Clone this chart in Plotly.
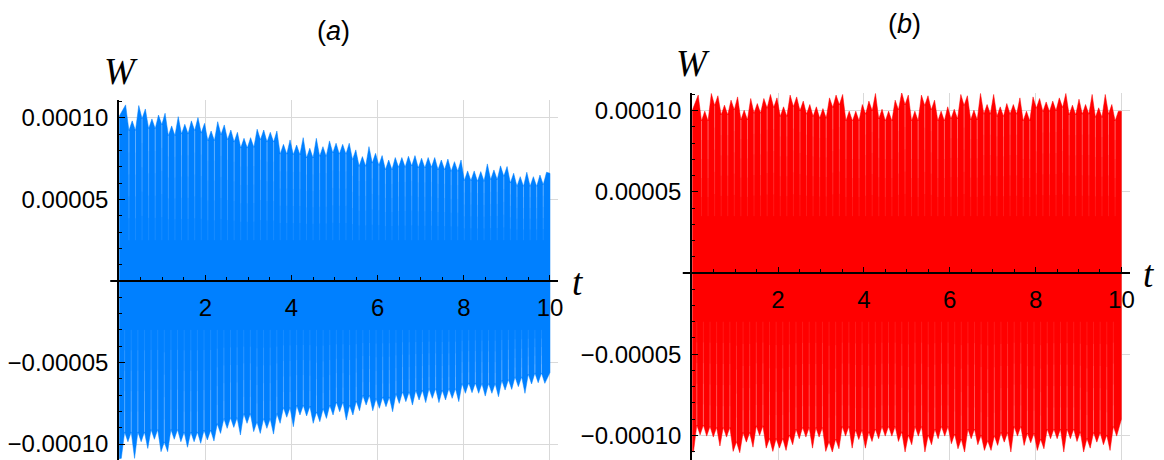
import numpy as np
import plotly.graph_objects as go

# ---------------- data (values in units of 1e-5) ----------------
SCALE = 1e-5

# panel (a): heights of the visible oscillation teeth (upper and lower edges)
a_upper = [10.80, 9.82, 10.76, 10.55, 9.94, 10.18, 10.29, 9.51, 10.08, 9.61,
           9.82, 10.02, 9.67, 9.20, 9.77, 9.57, 9.26, 9.12, 8.75, 8.79,
           9.31, 9.26, 9.12, 9.20, 8.38, 8.65, 8.34, 8.79, 8.14, 8.75,
           8.24, 8.59, 8.45, 8.38, 8.45, 8.04, 7.63, 8.24, 7.83, 7.69,
           7.42, 7.57, 7.57, 7.65, 7.69, 7.53, 7.57, 7.57, 7.42, 7.48,
           7.32, 7.42, 6.75, 6.75, 6.71, 7.18, 6.81, 7.06, 7.02, 6.61,
           6.40, 6.67, 6.40, 6.50, 6.67]
a_lower = [-10.88, -9.86, -10.88, -9.86, -10.27, -9.71, -10.47, -10.47, -9.71, -9.86,
           -10.20, -9.86, -9.96, -9.75, -9.82, -9.35, -9.04, -8.98, -9.45, -8.73,
           -9.24, -9.35, -9.04, -9.39, -8.73, -8.36, -8.94, -8.22, -8.28, -8.73,
           -8.63, -8.43, -8.22, -8.02, -8.53, -8.22, -7.96, -7.61, -7.96, -7.81,
           -7.71, -8.02, -7.51, -7.40, -7.61, -7.30, -7.46, -7.20, -7.46, -7.30,
           -7.20, -7.40, -6.89, -6.85, -6.89, -7.06, -6.89, -7.10, -6.69, -6.65,
           -6.48, -6.89, -6.32, -6.24, -6.28]
a_upper_ends = [10.1, 6.6]      # W at t=0 and t=10
a_lower_ends = [-10.9, -5.62]
a_upper_span = [0.15, 9.92]     # first / last tooth time
a_lower_span = [0.05, 9.88]
a_stripe_reach = [2.5, -3.0]    # how far the light gaps reach into the band

# panel (b)
b_upper = [10.95, 9.96, 11.05, 10.91, 10.33, 10.64, 10.84, 10.02, 10.74, 10.43,
           10.74, 10.99, 10.78, 10.23, 10.95, 10.84, 10.58, 10.37, 10.23, 10.12,
           10.78, 10.95, 10.99, 9.96, 9.96, 10.37, 10.58, 11.05, 10.08, 9.96,
           10.64, 11.11, 10.95, 9.96, 10.95, 10.91, 10.64, 9.96, 10.23, 10.08,
           10.99, 10.91, 10.02, 11.05, 10.37, 10.99, 10.23, 10.43, 10.37, 10.78,
           9.96, 10.84, 10.74, 10.53, 10.58, 10.78, 11.05, 10.33, 10.70, 10.37,
           10.99, 10.17, 10.99, 10.37, 9.96]
b_lower = [-11.02, -9.96, -10.04, -10.10, -10.65, -10.10, -10.98, -11.06, -10.41, -10.72,
           -10.00, -10.78, -10.98, -10.78, -10.92, -10.57, -10.20, -10.10, -10.78, -10.10,
           -10.98, -11.02, -10.82, -10.04, -10.78, -10.25, -10.78, -10.37, -10.20, -10.04,
           -10.04, -10.37, -11.02, -10.57, -10.04, -11.02, -10.57, -10.20, -10.04, -10.51,
           -10.82, -11.02, -10.20, -10.57, -10.92, -10.92, -10.61, -10.41, -11.02, -10.04,
           -10.61, -10.45, -10.92, -10.82, -10.20, -10.20, -11.02, -10.20, -10.37, -11.02,
           -10.78, -10.41, -10.57, -10.92, -10.04]
b_upper_ends = [10.0, 9.96]
b_lower_ends = [-11.0, -9.0]
b_upper_span = [0.14, 9.93]
b_lower_span = [0.03, 9.89]
b_stripe_reach = [3.5, -3.0]

T_END = 10
x_ticks = [2, 4, 6, 8, 10]
y_ticks = [-1e-4, -5e-5, 5e-5, 1e-4]
y_ticktext = ["\u22120.00010", "\u22120.00005", "0.00005", "0.00010"]

BLUE = "rgb(0,128,255)"
RED = "rgb(255,0,0)"
NOTCH = 0.6                      # depth of the gap between adjacent teeth (drawing style)
FADE = [0.2, 0.4, 0.6, 0.8, 1.0]  # stripe fading steps (drawing style)

W_PX, H_PX = 1164, 460
OFF = 8  # page body margin of the html page


def px(x):
    return (x - OFF) / W_PX


def py(y):
    return 1 - (y - OFF) / H_PX


def edge(span, vals, upper):
    t = np.linspace(span[0], span[1], len(vals))
    xs, ys, gaps = [], [], []
    for i, v in enumerate(vals):
        xs.append(t[i]); ys.append(v)
        if i < len(vals) - 1:
            m = (t[i] + t[i + 1]) / 2
            nv = min(v, vals[i + 1]) - NOTCH if upper else max(v, vals[i + 1]) + NOTCH
            xs.append(m); ys.append(nv)
            gaps.append((m, nv))
    return xs, ys, gaps


def stripes(gaps, reach, frac):
    sx, sy = [], []
    for m, nv in gaps:
        sx += [m, m, None]
        sy += [nv * SCALE, (nv + (reach - nv) * frac) * SCALE, None]
    return sx, sy


fig = go.Figure()
for (up, us, ue, lo, ls, le, reach, color, xa, ya) in [
    (a_upper, a_upper_span, a_upper_ends, a_lower, a_lower_span, a_lower_ends,
     a_stripe_reach, BLUE, "x", "y"),
    (b_upper, b_upper_span, b_upper_ends, b_lower, b_lower_span, b_lower_ends,
     b_stripe_reach, RED, "x2", "y2"),
]:
    ux, uy, ugaps = edge(us, up, True)
    lx, ly, lgaps = edge(ls, lo, False)
    xs = [0] + ux + [T_END, T_END] + lx[::-1] + [0, 0]
    ys = [ue[0]] + uy + [ue[1], le[1]] + ly[::-1] + [le[0], ue[0]]
    fig.add_trace(go.Scatter(x=xs, y=[v * SCALE for v in ys], mode="lines",
                             fill="toself", fillcolor=color,
                             line=dict(color=color, width=0.5), hoverinfo="skip",
                             xaxis=xa, yaxis=ya))
    for frac in FADE:
        sx1, sy1 = stripes(ugaps, reach[0], frac)
        sx2, sy2 = stripes(lgaps, reach[1], frac)
        fig.add_trace(go.Scatter(x=sx1 + sx2, y=sy1 + sy2, mode="lines", opacity=0.09,
                                 line=dict(color="white", width=1), hoverinfo="skip",
                                 connectgaps=False, xaxis=xa, yaxis=ya))

TICKFONT = dict(family="Liberation Sans, Arial, sans-serif", size=24, color="black")
GRID = "#d9d9d9"


def xaxis_cfg(dom, rng, pos):
    return dict(domain=dom, range=rng, anchor="free", position=pos,
                tickvals=x_ticks, showgrid=True, gridcolor=GRID, gridwidth=1,
                showline=True, linecolor="black", linewidth=2,
                ticks="inside", ticklen=5, tickwidth=1, tickcolor="black",
                minor=dict(dtick=0.5, tick0=0, ticks="inside", ticklen=3,
                           tickcolor="black", showgrid=False),
                tickfont=TICKFONT, zeroline=False, layer="above traces",
                ticklabelstandoff=5, fixedrange=True)


def yaxis_cfg(dom, rng, anchor):
    return dict(domain=dom, range=rng, anchor=anchor,
                tickvals=y_ticks, ticktext=y_ticktext,
                showgrid=True, gridcolor=GRID, gridwidth=1,
                showline=True, linecolor="black", linewidth=2,
                ticks="inside", ticklen=6, tickwidth=1, tickcolor="black",
                minor=dict(dtick=1e-5, tick0=0, ticks="inside", ticklen=3,
                           tickcolor="black", showgrid=False),
                tickfont=TICKFONT, zeroline=False, layer="above traces",
                ticklabelstandoff=4, fixedrange=True)


fig.update_layout(
    width=W_PX, height=H_PX,
    margin=dict(l=0, r=0, t=0, b=0),
    paper_bgcolor="white", plot_bgcolor="white",
    showlegend=False,
    xaxis=xaxis_cfg([px(117), px(559)], [0, 10.18], py(281)),
    yaxis=yaxis_cfg([py(460), py(100)], [-10.98e-5, 11.1e-5], "x"),
    xaxis2=xaxis_cfg([px(694.5), px(1135.7)], [0, 10.2], py(273)),
    yaxis2=yaxis_cfg([py(460), py(93)], [-11.51e-5, 11.08e-5], "x2"),
)

# short stubs of the t-axis left of the W-axis (Mathematica-style)
fig.add_shape(type="line", xref="paper", yref="y", x0=px(108), x1=px(117), y0=0, y1=0,
              line=dict(color="black", width=2))
fig.add_shape(type="line", xref="paper", yref="y2", x0=px(685), x1=px(694.5), y0=0, y1=0,
              line=dict(color="black", width=2))

SERIF = "Liberation Serif, Times New Roman, serif"
SANS = "Liberation Sans, Arial, sans-serif"
annos = [
    ("(<i>a</i>)", 333, 31, SANS, 27),
    ("(<i>b</i>)", 908, 24, SANS, 27),
    ("<i>W</i>", 119, 72, SERIF, 37),
    ("<i>W</i>", 695, 64, SERIF, 37),
    ("<i>t</i>", 579, 282, SERIF, 37),
    ("<i>t</i>", 1155, 274, SERIF, 37),
]
for text, x, y, fam, size in annos:
    fig.add_annotation(text=text, x=px(x), y=py(y), xref="paper", yref="paper",
                       xanchor="center", yanchor="middle", showarrow=False,
                       font=dict(family=fam, size=size, color="black"))

fig.write_html("out.html")
